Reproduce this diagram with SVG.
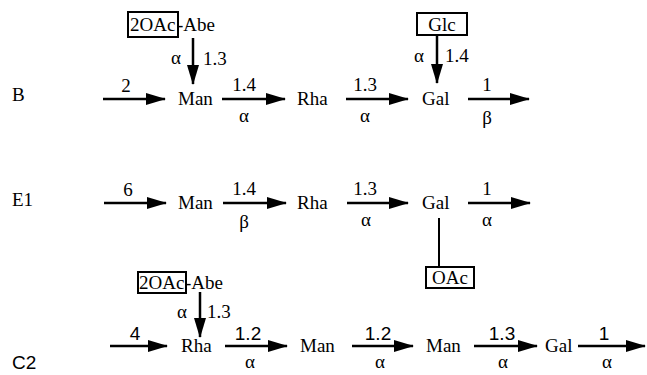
<svg xmlns="http://www.w3.org/2000/svg" width="647" height="375" viewBox="0 0 647 375">
<defs>
<marker id="ah" markerUnits="userSpaceOnUse" markerWidth="20" markerHeight="12" refX="19" refY="6" orient="auto">
<path d="M0,0 L20,6 L0,12 z" fill="#000"/>
</marker>
<style>
.t{font-family:"Liberation Serif","Times New Roman",serif;font-size:19px;fill:#000}
.s{font-family:"Liberation Sans",Arial,sans-serif;font-size:19px;fill:#000}
.m{text-anchor:middle}
.a{stroke:#000;stroke-width:2.5;fill:none;marker-end:url(#ah)}
.l{stroke:#000;stroke-width:2;fill:none}
.b{stroke:#000;stroke-width:2;fill:#fff}
</style>
</defs>
<rect width="647" height="375" fill="#fff"/>
<g id="labels">
<text class="t" x="12" y="101">B</text>
<text class="t" x="12" y="206">E1</text>
<text class="s" x="12" y="369">C2</text>
</g>
<g id="connectors">
<line class="a" x1="103" y1="99" x2="165" y2="99"/>
<line class="a" x1="222" y1="99" x2="285" y2="99"/>
<line class="a" x1="346" y1="99" x2="408" y2="99"/>
<line class="a" x1="468" y1="99" x2="529" y2="99"/>
<line class="a" x1="193" y1="38" x2="193" y2="84"/>
<line class="a" x1="437" y1="35" x2="437" y2="83"/>
<line class="a" x1="104" y1="203" x2="166" y2="203"/>
<line class="a" x1="223" y1="203" x2="286" y2="203"/>
<line class="a" x1="347" y1="203" x2="408" y2="203"/>
<line class="a" x1="468" y1="203" x2="530" y2="203"/>
<line class="l" x1="439" y1="218" x2="439" y2="267"/>
<line class="a" x1="110" y1="346" x2="167" y2="346"/>
<line class="a" x1="225" y1="346" x2="287" y2="346"/>
<line class="a" x1="352" y1="346" x2="413" y2="346"/>
<line class="a" x1="474" y1="346" x2="537" y2="346"/>
<line class="a" x1="578" y1="346" x2="645" y2="346"/>
<line class="a" x1="200" y1="292" x2="200" y2="337"/>
</g>
<g id="edge-labels">
<text class="t m" x="126" y="92">2</text>
<text class="t m" x="244" y="91">1.4</text>
<text class="t m" x="244" y="122">α</text>
<text class="t m" x="365" y="91">1.3</text>
<text class="t m" x="365" y="122">α</text>
<text class="t m" x="487" y="91">1</text>
<text class="t m" x="487" y="124">β</text>
<text class="t m" x="176" y="64">α</text>
<text class="t" x="203" y="65">1.3</text>
<text class="t m" x="419" y="62">α</text>
<text class="t" x="445" y="62">1.4</text>
<text class="t m" x="128" y="196">6</text>
<text class="t m" x="244" y="195">1.4</text>
<text class="t m" x="244" y="228">β</text>
<text class="t m" x="365" y="195">1.3</text>
<text class="t m" x="366" y="226">α</text>
<text class="t m" x="487" y="195">1</text>
<text class="t m" x="487" y="226">α</text>
<text class="s m" x="135" y="340">4</text>
<text class="s m" x="248" y="340">1.2</text>
<text class="t m" x="250" y="368">α</text>
<text class="s m" x="378" y="340">1.2</text>
<text class="t m" x="380" y="368">α</text>
<text class="s m" x="502" y="340">1.3</text>
<text class="t m" x="503" y="368">α</text>
<text class="s m" x="604" y="340">1</text>
<text class="t m" x="607" y="368">α</text>
<text class="t m" x="182" y="318">α</text>
<text class="t" x="207" y="318">1.3</text>
</g>
<g id="B-Man"><text class="t" x="178" y="105">Man</text></g>
<g id="B-Rha"><text class="t" x="297" y="105">Rha</text></g>
<g id="B-Gal"><text class="t" x="422" y="105">Gal</text></g>
<g id="B-Abe"><rect class="b" x="128" y="12" width="50" height="25"/><text class="t" x="130" y="31">2OAc</text><text class="t" x="177" y="31">-Abe</text></g>
<g id="B-Glc"><rect class="b" x="417" y="13" width="50" height="22"/><text class="t m" x="442" y="31">Glc</text></g>
<g id="E1-Man"><text class="t" x="178" y="209">Man</text></g>
<g id="E1-Rha"><text class="t" x="297" y="209">Rha</text></g>
<g id="E1-Gal"><text class="t" x="422" y="209">Gal</text></g>
<g id="E1-OAc"><rect class="b" x="426" y="267" width="48" height="21"/><text class="t m" x="450" y="284">OAc</text></g>
<g id="C2-Abe"><rect class="b" x="138" y="272" width="48" height="21"/><text class="t" x="139" y="289">2OAc</text><text class="t" x="185" y="289">-Abe</text></g>
<g id="C2-Rha"><text class="t" x="181" y="352">Rha</text></g>
<g id="C2-Man1"><text class="t" x="300" y="352">Man</text></g>
<g id="C2-Man2"><text class="t" x="426" y="352">Man</text></g>
<g id="C2-Gal"><text class="t" x="545" y="352">Gal</text></g>
</svg>
